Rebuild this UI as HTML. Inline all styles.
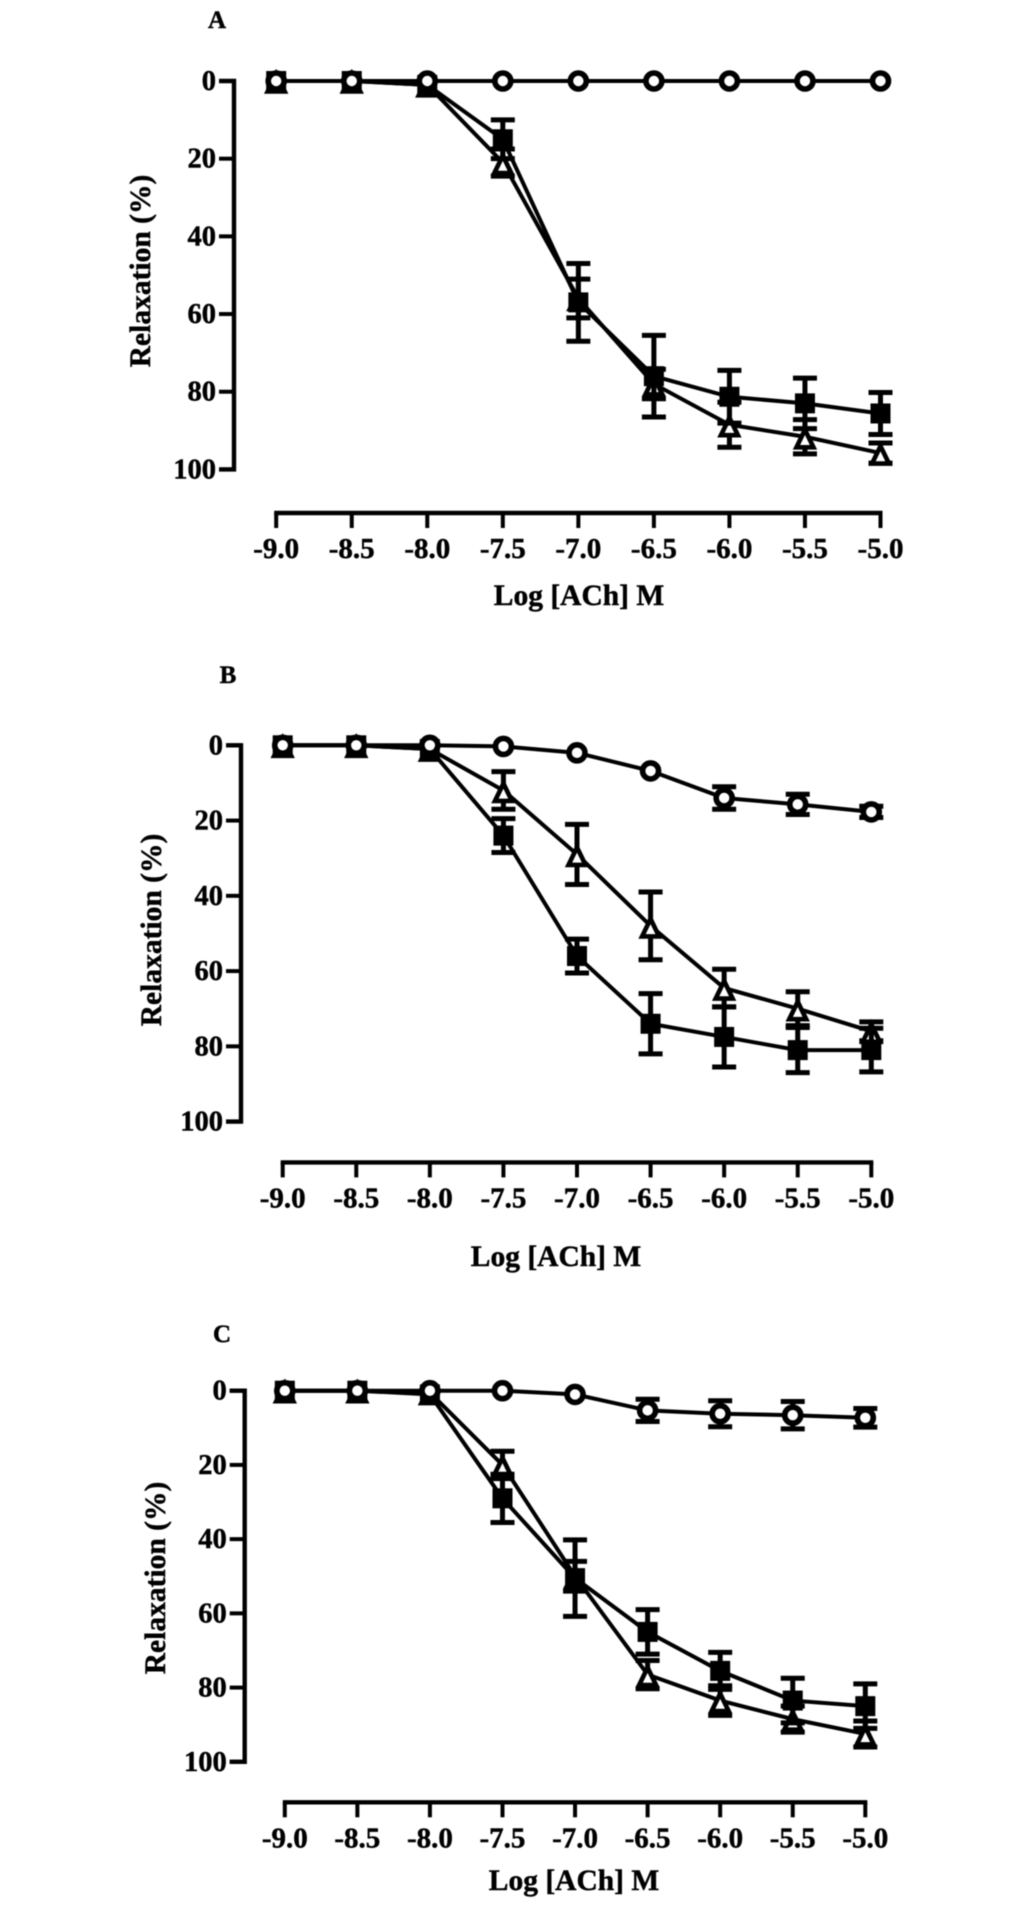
<!DOCTYPE html>
<html lang="en">
<head>
<meta charset="utf-8">
<title>Relaxation response to ACh</title>
<style>
html,body{margin:0;padding:0;background:#fff;width:1033px;height:1905px;overflow:hidden}
svg{display:block;filter:blur(0.6px)}
text{font-family:"Liberation Serif",serif;font-weight:bold;fill:#000;stroke:#000;stroke-width:0.45px}
</style>
</head>
<body>
<svg id="chart" xmlns="http://www.w3.org/2000/svg" width="1033" height="1905" viewBox="0 0 1033 1905">
  <rect x="0" y="0" width="1033" height="1905" fill="#fff"/>
  <text x="217" y="28" font-size="25" text-anchor="middle">A</text>
  <text x="579" y="605" font-size="29.5" text-anchor="middle">Log [ACh] M</text>
  <text transform="translate(150,271) rotate(-90)" font-size="29.5" text-anchor="middle">Relaxation (%)</text>
  <text x="228" y="683" font-size="25" text-anchor="middle">B</text>
  <text x="556" y="1266" font-size="29.5" text-anchor="middle">Log [ACh] M</text>
  <text transform="translate(161,930) rotate(-90)" font-size="29.5" text-anchor="middle">Relaxation (%)</text>
  <text x="222" y="1342" font-size="25" text-anchor="middle">C</text>
  <text x="574" y="1890" font-size="29.5" text-anchor="middle">Log [ACh] M</text>
  <text transform="translate(165,1578) rotate(-90)" font-size="29.5" text-anchor="middle">Relaxation (%)</text>
</svg>
<script>
var logConcentrations = [-9.0, -8.5, -8.0, -7.5, -7.0, -6.5, -6.0, -5.5, -5.0];
var xTickLabels = ["-9.0", "-8.5", "-8.0", "-7.5", "-7.0", "-6.5", "-6.0", "-5.5", "-5.0"];
var yTicks = [0, 20, 40, 60, 80, 100];
var yTickLabels = ["0", "20", "40", "60", "80", "100"];

var panelASquare = [0, 0, 1, 15, 57, 76, 81.3, 83, 85.6];
var panelASquareErr = [0, 0, 0.5, 5, 10, 10.5, 6.8, 6.5, 5.4];
var panelATriangle = [0, 0, 1, 21, 56, 78, 88.5, 91.6, 95.8];
var panelATriangleErr = [0, 0, 0.5, 3.5, 5, 3.8, 5.8, 4.4, 2.6];
var panelACircle = [0, 0, 0, 0, 0, 0, 0, 0, 0];
var panelACircleErr = [0, 0, 0, 0, 0, 0, 0, 0, 0];

var panelBSquare = [0, 0, 1, 24, 56, 74, 77.5, 81, 81];
var panelBSquareErr = [0, 0, 0.5, 4.5, 4.5, 8, 8, 6, 5.8];
var panelBTriangle = [0, 0, 1, 12, 29, 48, 64.5, 70, 76];
var panelBTriangleErr = [0, 0, 0.5, 5, 8, 9, 5, 4.5, 2.5];
var panelBCircle = [0, 0, 0, 0.3, 2, 6.8, 14, 15.7, 17.7];
var panelBCircleErr = [0, 0, 0, 0, 0, 0.5, 3, 2.7, 1.5];

var panelCSquare = [0, 0, 1, 29, 50.5, 65, 75.5, 83.5, 85];
var panelCSquareErr = [0, 0, 0.5, 6.5, 10.3, 6, 5, 6, 6];
var panelCTriangle = [0, 0, 0.5, 20, 50, 76.5, 83.5, 88.5, 92.5];
var panelCTriangleErr = [0, 0, 0.5, 3.7, 4, 3.8, 4, 3.5, 3.5];
var panelCCircle = [0, 0, 0, 0, 1, 5.3, 6.2, 6.6, 7.3];
var panelCCircleErr = [0, 0, 0, 0, 0, 3, 3.5, 3.7, 2.5];

var NS = "http://www.w3.org/2000/svg";
var svg = document.getElementById("chart");

function make(tag, attrs, parent) {
  var el = document.createElementNS(NS, tag);
  for (var k in attrs) el.setAttribute(k, attrs[k]);
  parent.appendChild(el);
  return el;
}

function drawPanel(id, frame, square, squareErr, triangle, triangleErr, circle, circleErr) {
  var xScale = function (v) { return frame.x0 + (v - (-9)) / 4 * (frame.x1 - frame.x0); };
  var yScale = function (v) { return frame.y0 + v / 100 * (frame.y100 - frame.y0); };

  var g = make("g", {}, svg);
  
  

  var yAxis = make("path", {
    d: "M" + (frame.axisX - 15) + " " + yScale(0) + "H" + frame.axisX + "V" + yScale(100) + "H" + (frame.axisX - 15),
    fill: "none", stroke: "#000", "stroke-width": 4.4
  }, g);
  
  

  yTicks.forEach(function (t, i) {
    var tick = make("line", { x1: frame.axisX - 15, x2: frame.axisX, y1: yScale(t), y2: yScale(t), stroke: "#000", "stroke-width": 4 }, g);
    
    
    var label = make("text", { x: frame.axisX - 18, y: yScale(t) + 9, "font-size": 28.5, "text-anchor": "end" }, g);
    label.textContent = yTickLabels[i];
    
    
  });

  var xAxis = make("line", { x1: xScale(-9) - 2, x2: xScale(-5) + 2, y1: frame.axisY, y2: frame.axisY, stroke: "#000", "stroke-width": 4.4 }, g);
  
  

  logConcentrations.forEach(function (c, i) {
    var tick = make("line", { x1: xScale(c), x2: xScale(c), y1: frame.axisY, y2: frame.axisY + 15, stroke: "#000", "stroke-width": 4 }, g);
    
    
    var label = make("text", { x: xScale(c), y: frame.axisY + 45, "font-size": 29, "text-anchor": "middle" }, g);
    label.textContent = xTickLabels[i];
    
    
  });

  function drawSeries(name, values, errs, marker) {
    var sg = make("g", {}, g);
    
    

    values.forEach(function (v, i) {
      if (errs[i] < 1) return;
      var x = xScale(logConcentrations[i]);
      var top = yScale(v - errs[i]);
      var bottom = yScale(v + errs[i]);
      var bar = make("path", {
        d: "M" + x + " " + top + "V" + bottom + "M" + (x - 12) + " " + top + "H" + (x + 12) + "M" + (x - 12) + " " + bottom + "H" + (x + 12),
        fill: "none", stroke: "#000", "stroke-width": 5
      }, sg);
      
      
    });

    var pts = values.map(function (v, i) { return xScale(logConcentrations[i]) + "," + yScale(v); }).join(" ");
    var line = make("polyline", { points: pts, fill: "none", stroke: "#000", "stroke-width": 4 }, sg);
    
    

    values.forEach(function (v, i) {
      var x = xScale(logConcentrations[i]);
      var y = yScale(v);
      var m;
      if (marker === "square") {
        m = make("rect", { x: x - 10, y: y - 10, width: 20, height: 20, fill: "#000" }, sg);
      } else if (marker === "triangle") {
        m = make("path", {
          d: "M" + x + " " + (y - 7) + "L" + (x + 8.5) + " " + (y + 10.5) + "H" + (x - 8.5) + "Z",
          fill: "#fff", stroke: "#000", "stroke-width": 4.6
        }, sg);
      } else {
        m = make("circle", { cx: x, cy: y, r: 8, fill: "#fff", stroke: "#000", "stroke-width": 5.6 }, sg);
      }
      
      
    });
  }

  drawSeries("triangle", triangle, triangleErr, "triangle");
  drawSeries("square", square, squareErr, "square");
  drawSeries("circle", circle, circleErr, "circle");
}

drawPanel("panel-a", { x0: 276.2, x1: 880.5, y0: 81, y100: 469.4, axisX: 234, axisY: 513 },
  panelASquare, panelASquareErr, panelATriangle, panelATriangleErr, panelACircle, panelACircleErr);
drawPanel("panel-b", { x0: 282.7, x1: 871.3, y0: 745.3, y100: 1121.6, axisX: 241, axisY: 1162.4 },
  panelBSquare, panelBSquareErr, panelBTriangle, panelBTriangleErr, panelBCircle, panelBCircleErr);
drawPanel("panel-c", { x0: 284.8, x1: 865.3, y0: 1390.7, y100: 1761.8, axisX: 244.7, axisY: 1802.3 },
  panelCSquare, panelCSquareErr, panelCTriangle, panelCTriangleErr, panelCCircle, panelCCircleErr);
</script>
</body>
</html>
